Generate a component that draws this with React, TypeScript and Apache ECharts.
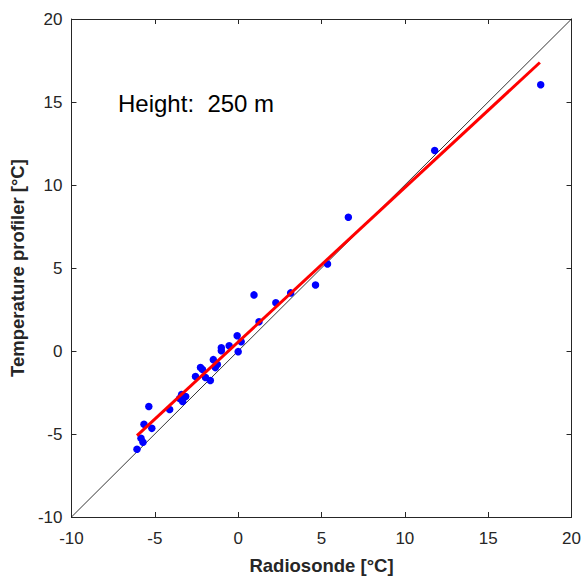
import React, { useEffect, useRef } from "react";
import * as echarts from "echarts";

const radiosonde = [18.15, 11.79, 6.61, 5.36, 4.64, 3.15, 2.26, 0.95, 1.25, -0.06, 0.18, 0.0, -0.54, -1.01, -1.01, -1.49, -1.25, -1.37, -2.26, -2.14, -2.56, -1.96, -1.67, -3.39, -3.15, -3.51, -3.33, -5.36, -4.11, -5.65, -5.18, -5.83, -5.71, -6.07];
const profiler = [16.04, 12.08, 8.06, 5.24, 3.98, 3.5, 2.9, 3.38, 1.76, 0.92, 0.56, -0.04, 0.32, 0.2, 0.02, -0.52, -0.82, -1.0, -1.0, -1.12, -1.54, -1.6, -1.78, -2.62, -2.74, -2.86, -3.04, -3.34, -3.52, -4.42, -4.66, -5.26, -5.5, -5.92];
const fitLine = [[-6.07, -5.1], [18.1, 17.38]];
const identityLine = [[-10, -10], [20, 20]];
const axisTicks = { min: -10, max: 20, interval: 5 };
const annotation = "Height:  250 m";
const xTitle = "Radiosonde [°C]";
const yTitle = "Temperature profiler [°C]";

const FONT = "'Liberation Sans', Arial, Helvetica, sans-serif";
const AXIS_COLOR = "#262626";

export default function App() {
  const ref = useRef<HTMLDivElement>(null);
  useEffect(() => {
    if (!ref.current) return;
    const chart = echarts.init(ref.current, undefined, { renderer: "svg" });
    const points = radiosonde.map((x, i) => [x, profiler[i]]);
    const baseAxis = {
      type: "value",
      min: axisTicks.min,
      max: axisTicks.max,
      interval: axisTicks.interval,
      axisLine: { show: true, onZero: false, lineStyle: { color: AXIS_COLOR, width: 1 } },
      axisTick: { show: true, inside: true, length: 5, lineStyle: { color: AXIS_COLOR } },
      splitLine: { show: false },
    };
    chart.setOption({
      animation: false,
      grid: { left: 68, right: 12, top: 19, bottom: 61, containLabel: false },
      xAxis: [
        {
          ...baseAxis,
          position: "bottom",
          name: xTitle,
          nameLocation: "middle",
          nameGap: 39,
          nameTextStyle: { fontFamily: FONT, fontSize: 18.5, fontWeight: "bold", color: AXIS_COLOR },
          axisLabel: { fontFamily: FONT, fontSize: 17, color: AXIS_COLOR, margin: 13 },
        },
        {
          ...baseAxis,
          position: "top",
          axisLabel: { show: false },
        },
      ],
      yAxis: [
        {
          ...baseAxis,
          position: "left",
          name: yTitle,
          nameLocation: "middle",
          nameGap: 42,
          nameTextStyle: { fontFamily: FONT, fontSize: 18.5, fontWeight: "bold", color: AXIS_COLOR },
          axisLabel: { fontFamily: FONT, fontSize: 17, color: AXIS_COLOR, margin: 9 },
        },
        {
          ...baseAxis,
          position: "right",
          axisLabel: { show: false },
        },
      ],
      series: [
        {
          type: "line",
          data: identityLine,
          showSymbol: false,
          symbol: "none",
          lineStyle: { color: "#000000", width: 0.8 },
          silent: true,
          z: 1,
        },
        {
          type: "scatter",
          data: points,
          symbol: "circle",
          symbolSize: 7.5,
          itemStyle: { color: "#0000FF", opacity: 1 },
          z: 2,
        },
        {
          type: "line",
          data: fitLine,
          showSymbol: false,
          symbol: "none",
          lineStyle: { color: "#FF0000", width: 3 },
          z: 3,
        },
      ],
      graphic: [
        {
          type: "text",
          left: 118,
          top: 91,
          style: { text: annotation, fontFamily: FONT, fontSize: 24, fill: "#000000" },
        },
      ],
    });
    return () => chart.dispose();
  }, []);
  return (
    <div
      ref={ref}
      style={{ position: "fixed", left: 0, top: 0, width: 584, height: 580, background: "#ffffff" }}
    />
  );
}
